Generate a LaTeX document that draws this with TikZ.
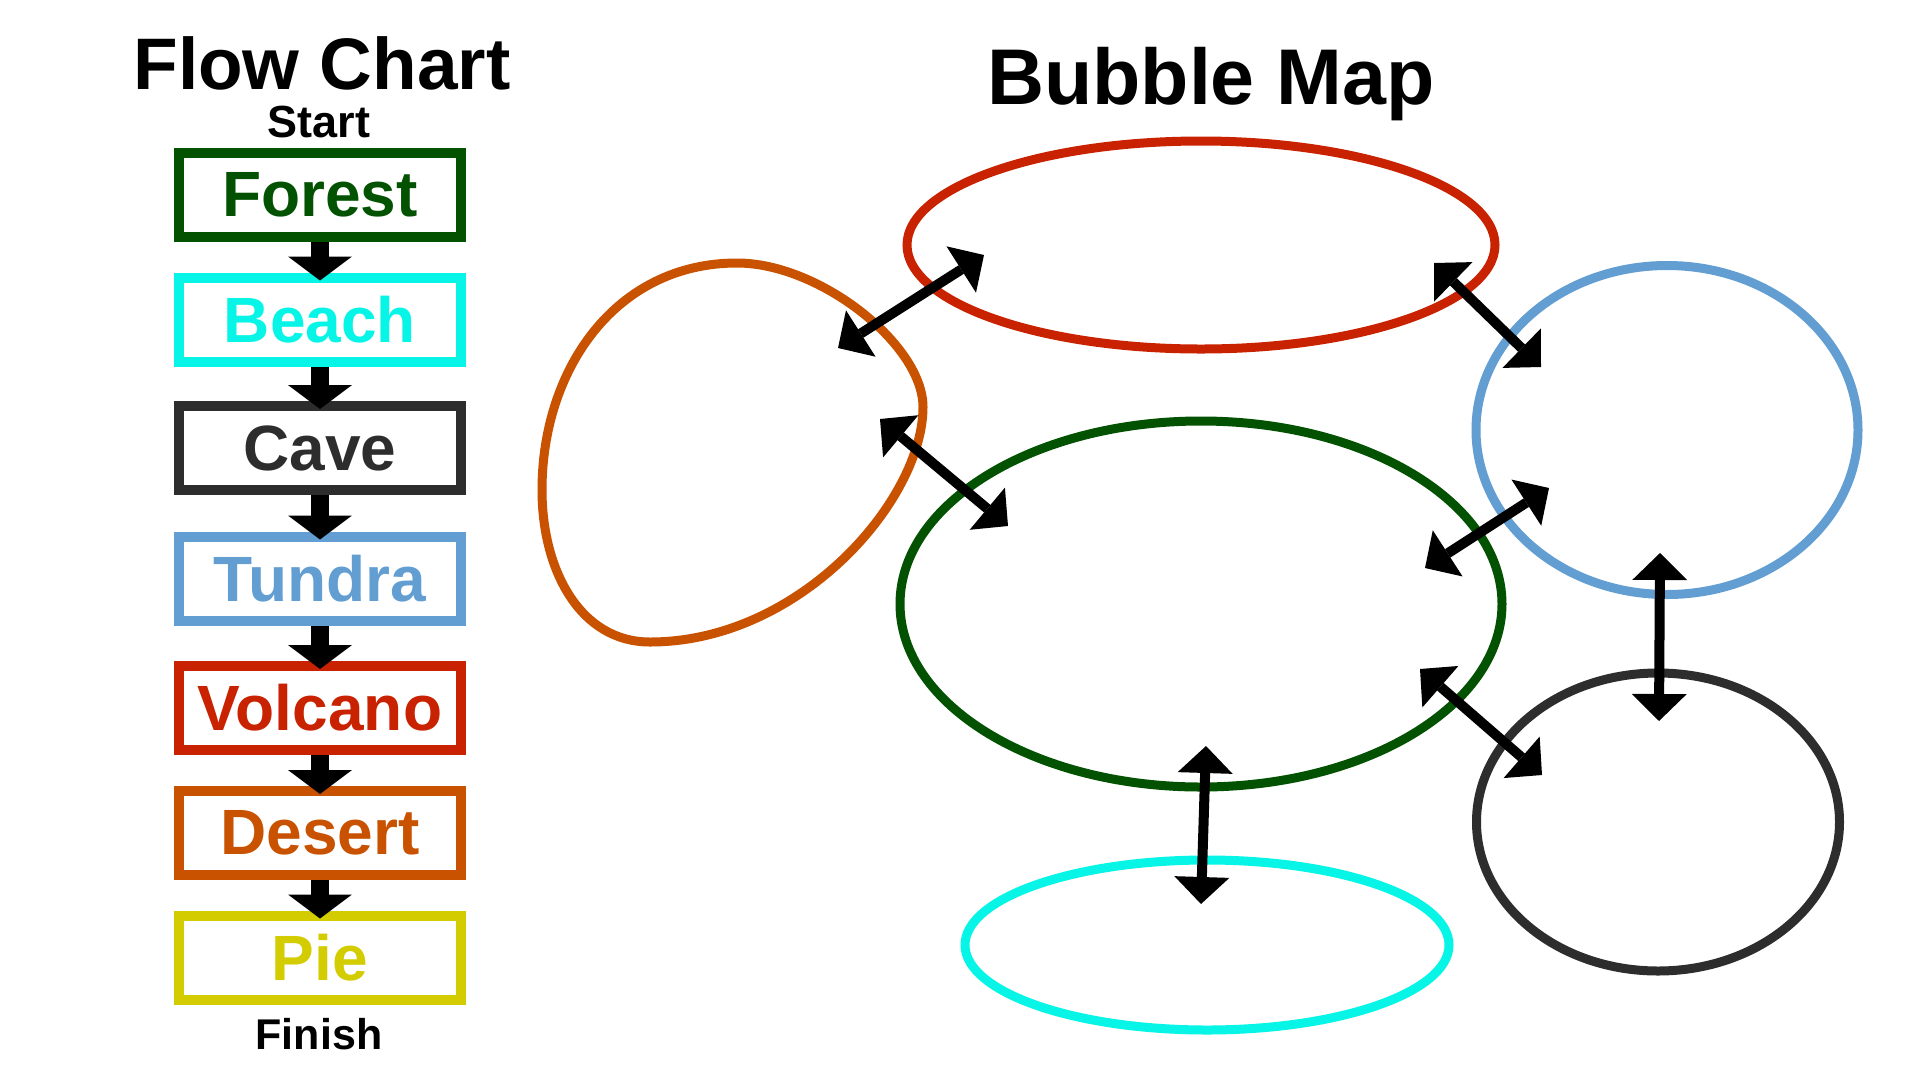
\documentclass[tikz,border=0pt]{standalone}
\usepackage{fontspec}
\setmainfont{Liberation Sans}
\usetikzlibrary{arrows.meta,shapes.geometric}
\definecolor{forestc}{RGB}{2,82,2}
\definecolor{beachc}{RGB}{6,245,230}
\definecolor{cavec}{RGB}{45,45,45}
\definecolor{tundrac}{RGB}{98,158,210}
\definecolor{volcanoc}{RGB}{200,34,0}
\definecolor{desertc}{RGB}{200,82,0}
\definecolor{piec}{RGB}{210,204,0}
\begin{document}
\begin{tikzpicture}[x=1pt,y=-1pt,
  fbox/.style={draw=#1, text=#1, line width=10pt, minimum width=282pt, minimum height=84pt, inner sep=0pt, font=\fontsize{64}{70}\selectfont\bfseries},
  farrow/.style={line width=18pt, -{Triangle[width=64pt,length=24pt,line width=0pt]}},
  barrow/.style={line width=10pt, {Triangle[width=55pt,length=27pt,line width=0pt]}-{Triangle[width=55pt,length=27pt,line width=0pt]}},
  bubble/.style={draw=#1, line width=9pt, ellipse, inner sep=0pt},
  ttl/.style={anchor=base, font=\fontsize{#1}{#1}\selectfont\bfseries},
]
\useasboundingbox (0,0) rectangle (1920,1080);
\fill[white] (0,0) rectangle (1920,1080);

% titles
\node[ttl=73] (fctitle) at (322,89) {Flow Chart};
\node[ttl=79] (bmtitle) at (1211,104) {Bubble Map};
\node[ttl=45] (start) at (319,137.6) {Start};
\node[ttl=43] (finish) at (319,1049) {Finish};

% flow chart boxes
\node[fbox=forestc] (forest) at (320,195) {Forest};
\node[fbox=beachc] (beach) at (320,319.5) {Beach};
\node[fbox=cavec] (cave) at (320,448) {Cave};
\node[fbox=tundrac] (tundra) at (320,578.5) {Tundra};
\node[fbox=volcanoc] (volcano) at (320,708) {Volcano};
\node[fbox=desertc] (desert) at (320,833) {Desert};
\node[fbox=piec] (pie) at (320,957.5) {Pie};

\foreach \a/\b in {forest/beach,beach/cave,cave/tundra,tundra/volcano,volcano/desert,desert/pie}
  \draw[farrow] (\a.south) -- ([yshift=-8pt]\b.north);

% bubble map
\draw[desertc, line width=9pt, line join=round]
  (737,263) .. controls (820,263) and (923,345) .. (923,407)
  .. controls (923,500) and (800,642) .. (650,642)
  .. controls (580,642) and (542,570) .. (542,490)
  .. controls (542,370) and (615,263) .. (737,263) -- cycle;
\node[bubble=volcanoc, minimum width=588pt, minimum height=208pt] (bred) at (1201,245) {};
\node[bubble=forestc, minimum width=602pt, minimum height=366pt] (bgreen) at (1201,604) {};
\node[bubble=beachc, minimum width=484pt, minimum height=170pt] (bcyan) at (1207,945) {};
\node[bubble=tundrac, minimum width=382pt, minimum height=329pt] (bblue) at (1667,430) {};
\node[bubble=cavec, minimum width=363pt, minimum height=298pt] (bblack) at (1658,822) {};

\coordinate (a1s) at (838,348);   \coordinate (a1e) at (984,255);
\coordinate (a2s) at (880,419);   \coordinate (a2e) at (1008,526);
\coordinate (a3s) at (1434,263);  \coordinate (a3e) at (1541,367);
\coordinate (a4s) at (1425,568);  \coordinate (a4e) at (1549,488);
\coordinate (a5s) at (1420,669);  \coordinate (a5e) at (1542,775);
\coordinate (a6s) at (1660,553);  \coordinate (a6e) at (1659,721);
\coordinate (a7s) at (1206,746);  \coordinate (a7e) at (1201,904);
\foreach \i in {1,...,7}
  \draw[barrow] (a\i s) -- (a\i e);
\end{tikzpicture}
\end{document}
